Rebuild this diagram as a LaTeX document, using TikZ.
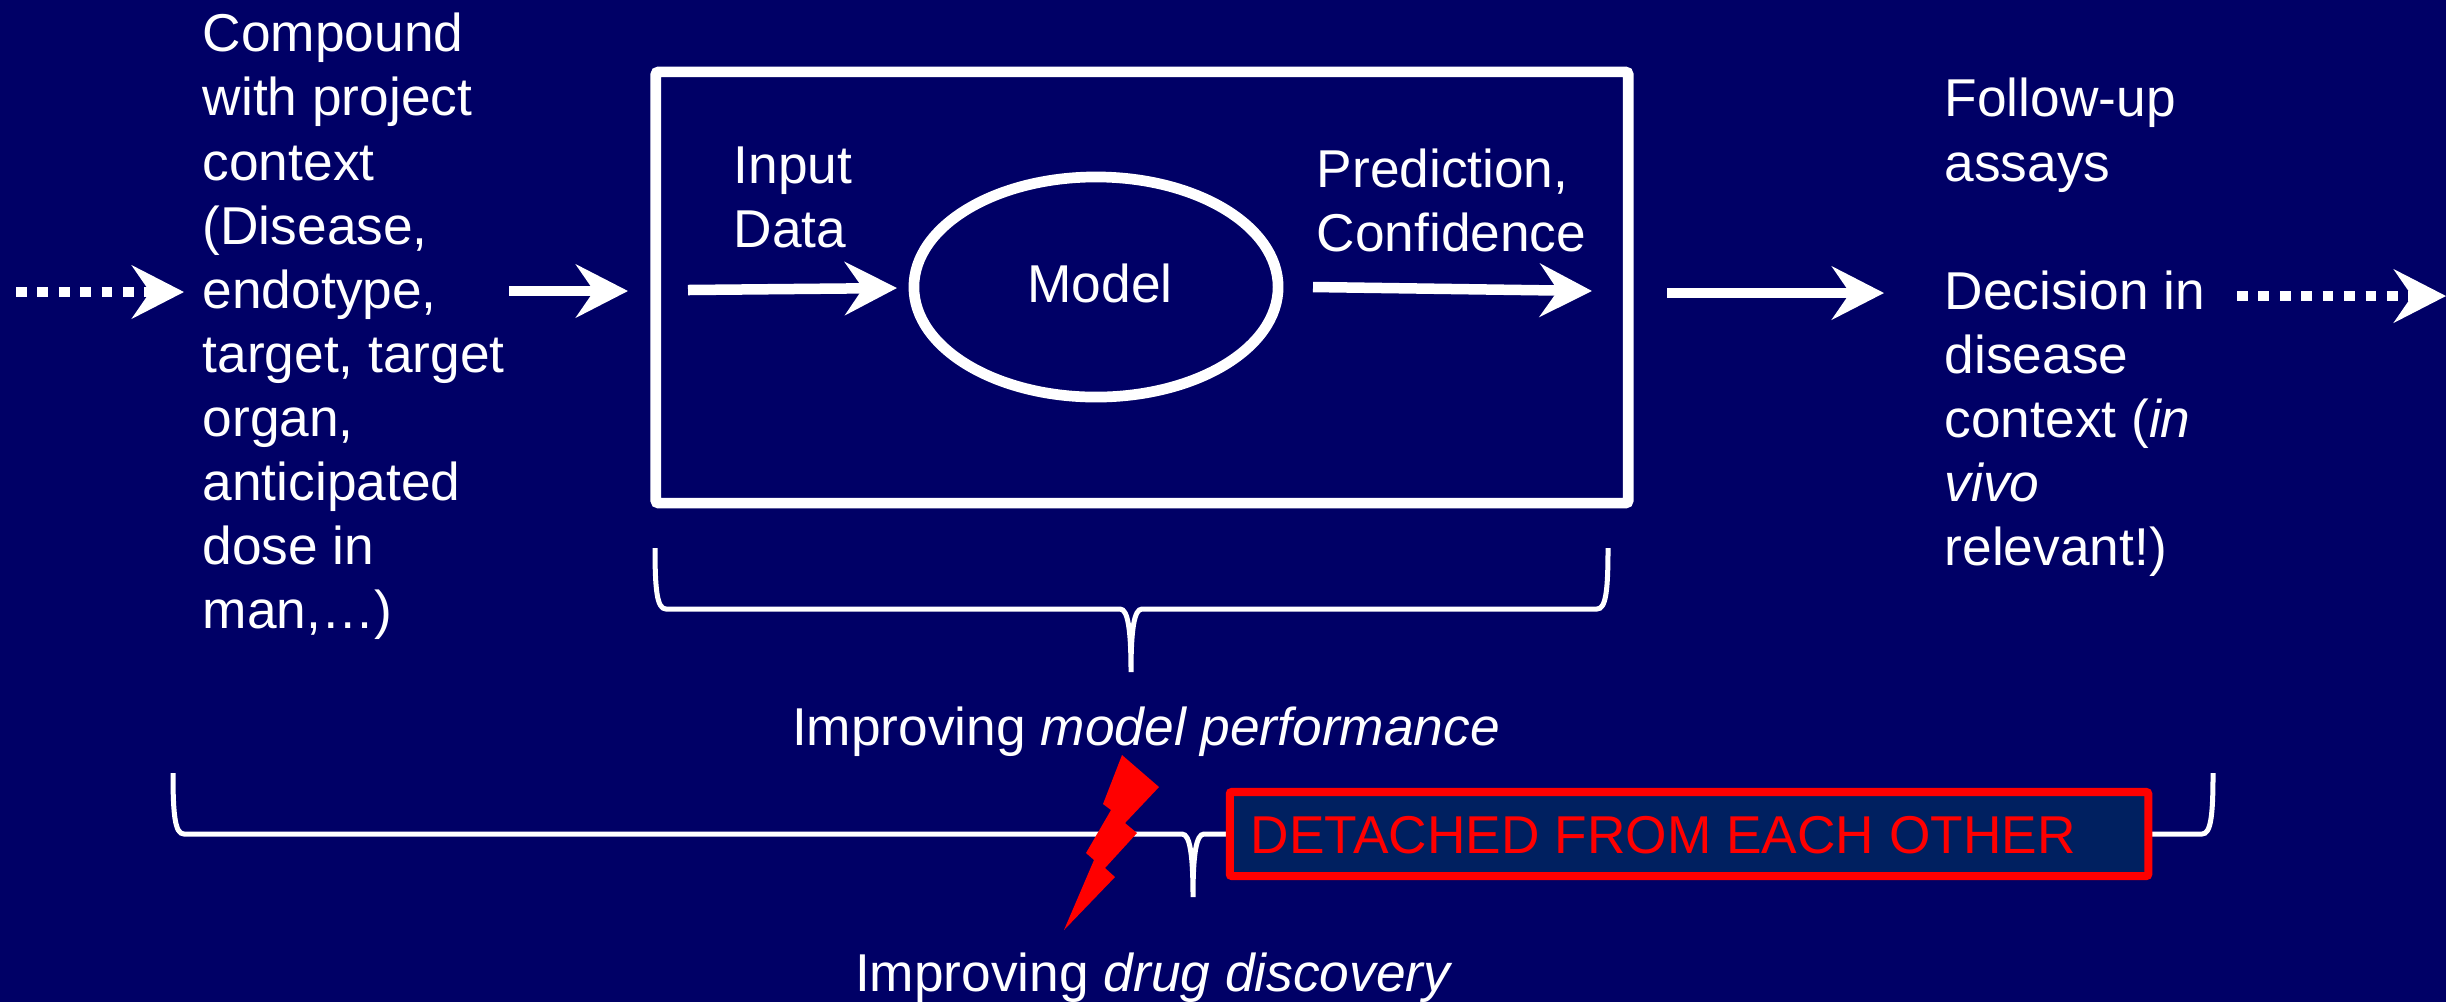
\documentclass[tikz,border=0pt]{standalone}
\usepackage{fontspec}
\setmainfont{Liberation Sans}
\usepackage{xcolor}
\definecolor{bbg}{HTML}{000066}
\definecolor{bbox}{HTML}{002060}
\definecolor{rred}{HTML}{FF0000}
\usetikzlibrary{arrows.meta}
\usetikzlibrary{shapes.geometric}
\tikzset{
	lbl/.style={anchor=base west,inner sep=0pt,align=left,white,font=\fontsize{15.15}{18.2}\selectfont},
	midlbl/.style={lbl,anchor=base},
	flow/.style={white,line width=.105cm,-{Stealth[length=.52cm,width=.53cm,inset=.18cm]}},
	dotflow/.style={flow,dash pattern=on .107cm off .107cm},
	brace/.style={white,line width=.05cm}
}
\begin{document}
\begin{tikzpicture}[x=.01cm,y=-.01cm]
				\path[use as bounding box,fill=bbg] (0,0) rectangle (2446,1002);
				\node[lbl] (compound) at (202,628) {Compound\\with project\\context\\(Disease,\\endotype,\\target, target\\organ,\\anticipated\\dose in\\man,…)};
				\node[draw=white,line width=.107cm,rounded corners=.03cm,minimum width=9.72cm,minimum height=4.31cm] (modelbox) at (1142,287.5) {};
				\node[draw=white,line width=.107cm,ellipse,minimum width=3.64cm,minimum height=2.2cm,inner sep=0pt] (model) at (1096,287) {};
				\node[midlbl] (modeltext) at (1100,302) {Model};
				\node[lbl] (input) at (733,247) {Input\\Data};
				\node[lbl] (prediction) at (1316,251) {Prediction,\\Confidence};
				\node[lbl] (followup) at (1944,565) {Follow-up\\assays\\[18.2pt]Decision in\\disease\\context (\textit{in}\\\textit{vivo}\\relevant!)};
				\node[midlbl] (perf) at (1146,745) {Improving \textit{model performance}};
				\node[midlbl] (drug) at (1154,991) {Improving \textit{drug discovery}};
				\coordinate (c0) at (16,292);
				\coordinate (c1) at (184,292);
				\coordinate (c2) at (509,291);
				\coordinate (c3) at (628,291);
				\coordinate (c4) at (688,290);
				\coordinate (c5) at (897,288);
				\coordinate (c6) at (1313,287);
				\coordinate (c7) at (1592,291);
				\coordinate (c8) at (1667,293);
				\coordinate (c9) at (1884,293);
				\coordinate (c10) at (2237,296);
				\coordinate (c11) at (2446,296);
				\draw[dotflow] (c0) -- (c1);
				\draw[flow] (c2) -- (c3);
				\draw[flow] (c4) -- (c5);
				\draw[flow] (c6) -- (c7);
				\draw[flow] (c8) -- (c9);
				\draw[dotflow] (c10) -- (c11);
				\draw[brace] (655,548) .. controls (655,590) and (657,609) .. (666,609) -- (1120,609) .. controls (1128,609) and (1131,630) .. (1131,672) .. controls (1131,630) and (1134,609) .. (1142,609) -- (1597,609) .. controls (1606,609) and (1608,590) .. (1608,548);
				\draw[brace] (173,773) .. controls (173,815) and (175,834) .. (184,834) -- (1182,834) .. controls (1190,834) and (1193,855) .. (1193,897) .. controls (1193,855) and (1196,834) .. (1204,834) -- (2202,834) .. controls (2211,834) and (2213,815) .. (2213,773);
				\fill[rred] (1122,755) -- (1159,787) -- (1125,823) -- (1137,833) -- (1105,868) -- (1115,877) -- (1064,930) -- (1094,860) -- (1086,853) -- (1111,810) -- (1103,804) -- cycle;
				\node[draw=rred,fill=bbox,line width=.08cm,rounded corners=.02cm,minimum width=9.18cm,minimum height=.84cm] (detached) at (1689,834) {};
				\node[lbl,rred] (detachedtext) at (1250,853) {DETACHED FROM EACH OTHER};
			\end{tikzpicture}
\end{document}
